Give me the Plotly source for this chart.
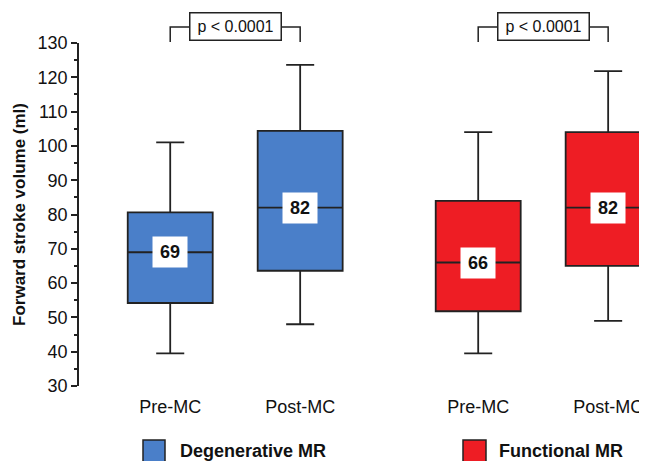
import plotly.graph_objects as go

# ---- data ----
groups = ["Degenerative MR", "Functional MR"]
colors = ["#4A7FC9", "#EE1D24"]
time_labels = ["Pre-MC", "Post-MC"]
positions = [[0.0, 1.0], [2.37, 3.37]]

deg_lower = [39.5, 48.0]
deg_q1 = [54.2, 63.6]
deg_median = [69.0, 82.0]
deg_q3 = [80.6, 104.4]
deg_upper = [101.0, 123.6]

fun_lower = [39.5, 49.0]
fun_q1 = [51.8, 65.0]
fun_median = [66.0, 82.0]
fun_q3 = [84.0, 104.0]
fun_upper = [104.0, 121.8]

p_labels = ["p < 0.0001", "p < 0.0001"]

stats = [
    (deg_lower, deg_q1, deg_median, deg_q3, deg_upper),
    (fun_lower, fun_q1, fun_median, fun_q3, fun_upper),
]

INK = "#222222"
FONT = "Liberation Sans, Arial, sans-serif"
Y0, Y1 = 30, 130

fig = go.Figure()
for g, (lo, q1, med, q3, up) in enumerate(stats):
    fig.add_trace(go.Box(
        x=positions[g], lowerfence=lo, q1=q1, median=med, q3=q3, upperfence=up,
        width=0.654, whiskerwidth=0.33, fillcolor=colors[g],
        line=dict(color=INK, width=1.8), boxpoints=False,
        name=groups[g], showlegend=False, hoverinfo="skip",
    ))

annotations = []
shapes = []

# median labels
for g, (lo, q1, med, q3, up) in enumerate(stats):
    for x, m in zip(positions[g], med):
        annotations.append(dict(
            x=x, y=m, xref="x", yref="y", text="<b>%d</b>" % round(m),
            showarrow=False, bgcolor="white", width=32, height=28,
            xanchor="center", yanchor="middle",
            font=dict(size=18, color="#111111", family=FONT),
        ))

# helpers: window pixel -> paper coords (page has an 8px body margin)
def py2paper(py):
    return (386 - py) / 343.0

def px2paper(px):
    return (px - 79) / 568.0

# significance brackets
for g in range(2):
    xa, xb = positions[g]
    yb, yt = py2paper(42), py2paper(27)
    shapes.append(dict(type="path", xref="x", yref="paper",
                       path=f"M {xa},{yb} L {xa},{yt} L {xb},{yt} L {xb},{yb}",
                       line=dict(color=INK, width=1.5)))
    annotations.append(dict(
        x=(xa + xb) / 2, y=py2paper(26), xref="x", yref="paper",
        xanchor="center", yanchor="middle",
        text=p_labels[g], showarrow=False, bgcolor="white",
        bordercolor=INK, borderwidth=1.5, borderpad=1, width=88, height=24,
        font=dict(size=16, color="#111111", family=FONT),
    ))

# custom legend
legend_x = [(143, 165, 179), (463, 486, 498)]
for g in range(2):
    x0, x1, xt = legend_x[g]
    shapes.append(dict(type="rect", xref="paper", yref="paper",
                       x0=px2paper(x0), x1=px2paper(x1),
                       y0=py2paper(466), y1=py2paper(440),
                       fillcolor=colors[g], line=dict(color=INK, width=1.5)))
    annotations.append(dict(
        x=px2paper(xt), y=py2paper(451), xref="paper", yref="paper",
        xanchor="left", yanchor="middle", text="<b>%s</b>" % groups[g],
        showarrow=False, borderpad=0,
        font=dict(size=18, color="#111111", family=FONT),
    ))

tickvals = positions[0] + positions[1]
ticktext = time_labels + time_labels

fig.update_layout(
    width=639, height=453,
    margin=dict(l=71, r=0, t=35, b=75, pad=0),
    paper_bgcolor="white", plot_bgcolor="white",
    font=dict(family=FONT, color=INK),
    showlegend=False,
    shapes=shapes, annotations=annotations,
    xaxis=dict(range=[-0.702, 3.669], tickvals=tickvals, ticktext=ticktext,
               showline=False, showgrid=False, zeroline=False, ticks="",
               ticklabelstandoff=8,
               tickfont=dict(size=18, color="#111111", family=FONT)),
    yaxis=dict(range=[Y0, Y1], dtick=10, tick0=0, showline=True,
               linecolor=INK, linewidth=1.5, ticks="outside", ticklen=6,
               tickwidth=1.5, tickcolor=INK, showgrid=False, zeroline=False,
               minor=dict(dtick=5, ticks="outside", ticklen=3, tickwidth=1.5,
                          tickcolor=INK, showgrid=False),
               ticklabelstandoff=0,
               tickfont=dict(size=18, color="#111111", family=FONT),
               title=dict(text="<b>Forward stroke volume (ml)</b>", standoff=8,
                          font=dict(size=17, color="#111111", family=FONT))),
)

fig.write_html("out.html")
